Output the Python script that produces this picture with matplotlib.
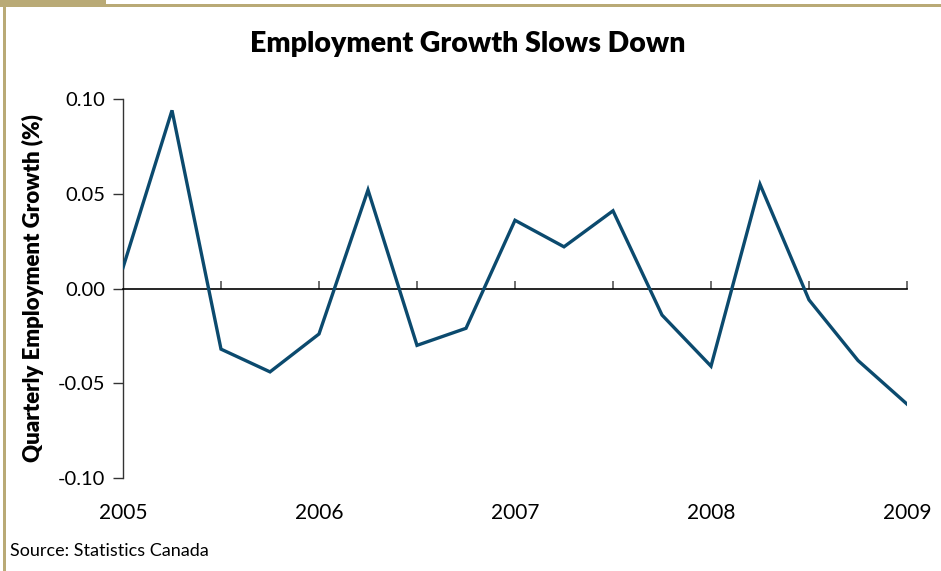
import matplotlib
matplotlib.use("Agg")
import matplotlib.pyplot as plt
from matplotlib.patches import Rectangle

plt.rcParams['font.family'] = ['Lato', 'DejaVu Sans']

# Data: quarterly employment growth, 2005 Q1 .. 2009 Q1
quarters = [2005.0, 2005.25, 2005.5, 2005.75,
            2006.0, 2006.25, 2006.5, 2006.75,
            2007.0, 2007.25, 2007.5, 2007.75,
            2008.0, 2008.25, 2008.5, 2008.75,
            2009.0]
growth = [0.011, 0.094, -0.032, -0.044,
          -0.024, 0.052, -0.030, -0.021,
          0.036, 0.022, 0.041, -0.014,
          -0.041, 0.055, -0.006, -0.038,
          -0.061]
year_ticks = [2005, 2006, 2007, 2008, 2009]
year_labels = ["2005", "2006", "2007", "2008", "2009"]
half_year_ticks = [2005.5, 2006, 2006.5, 2007, 2007.5, 2008, 2008.5, 2009]
y_ticks = [-0.10, -0.05, 0.00, 0.05, 0.10]
y_labels = ["-0.10", "-0.05", "0.00", "0.05", "0.10"]

W, H = 941, 571
fig = plt.figure(figsize=(W / 100, H / 100), dpi=100)
fig.patch.set_facecolor('white')

# decorative tan frame (left and top)
tan = '#B9AA76'
fig.add_artist(Rectangle((0, 1 - 5 / H), 106 / W, 5 / H, transform=fig.transFigure,
                         facecolor=tan, edgecolor='none'))
fig.add_artist(Rectangle((0, 1 - 7 / H), 1, 3 / H, transform=fig.transFigure,
                         facecolor=tan, edgecolor='none'))
fig.add_artist(Rectangle((3 / W, 0), 3 / W, 1 - 4 / H, transform=fig.transFigure,
                         facecolor=tan, edgecolor='none'))

ax = fig.add_axes([123 / W, 1 - 478 / H, (907 - 123) / W, (478 - 99) / H])
ax.plot(quarters, growth, color='#0B4A6E', lw=2.4, solid_joinstyle='miter', zorder=3)

ax.set_xlim(2005, 2009)
ax.set_ylim(-0.10, 0.10)

# spines
ax.spines['top'].set_visible(False)
ax.spines['right'].set_visible(False)
ax.spines['bottom'].set_position(('data', 0))
ax.spines['bottom'].set_color('black')
ax.spines['bottom'].set_linewidth(1.2)
ax.spines['left'].set_color('#333333')
ax.spines['left'].set_linewidth(1.0)

ax.set_yticks(y_ticks)
ax.set_yticklabels(y_labels)
ax.tick_params(axis='y', direction='out', length=7, width=1, color='#333333',
               labelsize=14.5, pad=6)

ax.set_xticks(half_year_ticks)
ax.set_xticklabels([])
ax.tick_params(axis='x', direction='in', length=6, width=1.2, color='#555555')

sec = ax.secondary_xaxis(0)
sec.set_xticks(year_ticks)
sec.set_xticklabels(year_labels)
sec.spines['bottom'].set_visible(False)
sec.tick_params(axis='x', length=0, labelsize=15, pad=18)

ax.set_ylabel('Quarterly Employment Growth (%)', fontsize=16, fontweight='heavy',
              labelpad=10)

fig.text(468 / W, 1 - 44 / H, 'Employment Growth Slows Down', ha='center', va='center',
         fontsize=20.5, fontweight='heavy')
fig.text(10 / W, 1 - 551 / H, 'Source: Statistics Canada', ha='left', va='center',
         fontsize=13)

fig.savefig('out.png', dpi=100, facecolor='white')
